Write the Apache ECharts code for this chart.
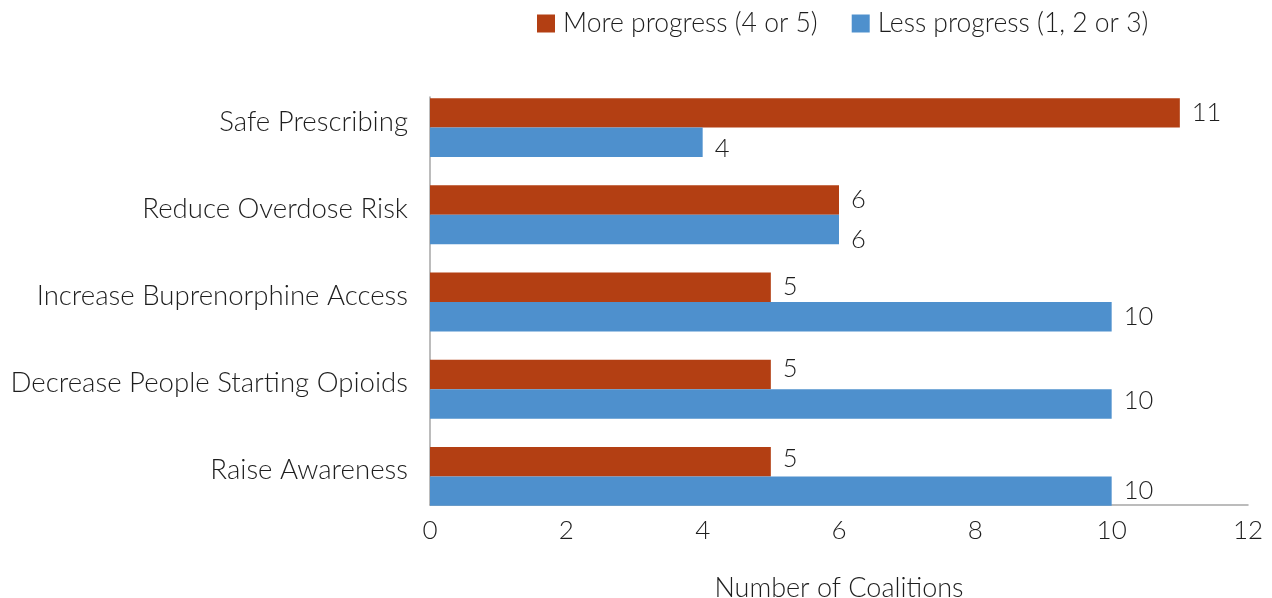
<!DOCTYPE html>
<html>
<head>
<meta charset="utf-8">
<script src="https://cdn.jsdelivr.net/npm/echarts@6/dist/echarts.min.js"></script>
<style>
  html, body { margin: 0; padding: 0; background: #fff; }
  #chart { width: 1272px; height: 598px; }
</style>
</head>
<body>
<div id="chart"></div>
<script>
// categories, top to bottom
var categories = ['Safe Prescribing', 'Reduce Overdose Risk', 'Increase Buprenorphine Access', 'Decrease People Starting Opioids', 'Raise Awareness'];
var moreProgress = [11, 6, 5, 5, 5];
var lessProgress = [4, 6, 10, 10, 10];
var seriesNames = ['More progress (4 or 5)', 'Less progress (1, 2 or 3)'];
var xTicks = { min: 0, max: 12, interval: 2 };

var FONT = 'Lato';
var TEXT = '#1e1e1e';
var AXIS = '#a6a6a6';
var chart = echarts.init(document.getElementById('chart'), null, { renderer: 'canvas' });

function labelStyle() {
  return {
    show: true,
    position: 'right',
    distance: 12,
    fontFamily: FONT,
    fontWeight: 300,
    fontSize: 25.5,
    color: TEXT
  };
}

// excel nudged some of the value labels a few px off the bar centre
var moreNudge = { 3: [0, -6], 4: [0, -3] };
var lessNudge = { 0: [0, 6], 1: [0, 10], 3: [0, -3] };

function withNudges(values, nudges) {
  return values.map(function (v, i) {
    var item = { value: v };
    if (nudges[i]) item.label = { offset: nudges[i] };
    return item;
  });
}

var option = {
  animation: false,
  legend: {
    data: seriesNames,
    top: 5,
    left: 532,
    itemWidth: 18,
    itemHeight: 18,
    itemGap: 34,
    icon: 'rect',
    textStyle: { fontFamily: FONT, fontWeight: 300, fontSize: 26.5, color: TEXT, padding: [0, 0, 0, 3] }
  },
  grid: [
    // grid for the bars (bands run a little past the drawn axis lines)
    { left: 430, right: 24, top: 84, bottom: 78, outerBoundsMode: 'none' },
    // grid for the visible axis lines
    { left: 430, right: 24, top: 97, bottom: 93, outerBoundsMode: 'none' }
  ],
  xAxis: [
    {
      gridIndex: 0,
      type: 'value',
      min: xTicks.min,
      max: xTicks.max,
      interval: xTicks.interval,
      show: false
    },
    {
      gridIndex: 1,
      type: 'value',
      min: xTicks.min,
      max: xTicks.max,
      interval: xTicks.interval,
      name: 'Number of Coalitions',
      nameLocation: 'middle',
      nameGap: 70,
      nameTextStyle: { fontFamily: FONT, fontWeight: 300, fontSize: 27, color: TEXT },
      axisLine: { show: true, lineStyle: { color: AXIS, width: 1.5 } },
      axisTick: { show: false },
      splitLine: { show: false },
      axisLabel: { fontFamily: FONT, fontWeight: 300, fontSize: 26, color: TEXT, margin: 13 }
    }
  ],
  yAxis: [
    {
      gridIndex: 0,
      type: 'category',
      data: categories,
      inverse: true,
      axisLine: { show: false },
      axisTick: { show: false },
      splitLine: { show: false },
      axisLabel: {
        fontFamily: FONT,
        fontWeight: 300,
        fontSize: 27.6,
        color: TEXT,
        margin: 22,
        verticalAlign: 'bottom',
        lineHeight: 12
      }
    },
    {
      gridIndex: 1,
      type: 'value',
      min: 0,
      max: 1,
      axisLine: { show: true, lineStyle: { color: AXIS, width: 1.5 } },
      axisTick: { show: false },
      axisLabel: { show: false },
      splitLine: { show: false }
    }
  ],
  series: [
    {
      name: seriesNames[0],
      type: 'bar',
      xAxisIndex: 0,
      yAxisIndex: 0,
      data: withNudges(moreProgress, moreNudge),
      barGap: '0%',
      barCategoryGap: '32.4%',
      itemStyle: { color: '#B33F13' },
      label: labelStyle()
    },
    {
      name: seriesNames[1],
      type: 'bar',
      xAxisIndex: 0,
      yAxisIndex: 0,
      data: withNudges(lessProgress, lessNudge),
      barGap: '0%',
      barCategoryGap: '32.4%',
      itemStyle: { color: '#4E90CD' },
      label: labelStyle()
    }
  ]
};

chart.setOption(option);
</script>
</body>
</html>
